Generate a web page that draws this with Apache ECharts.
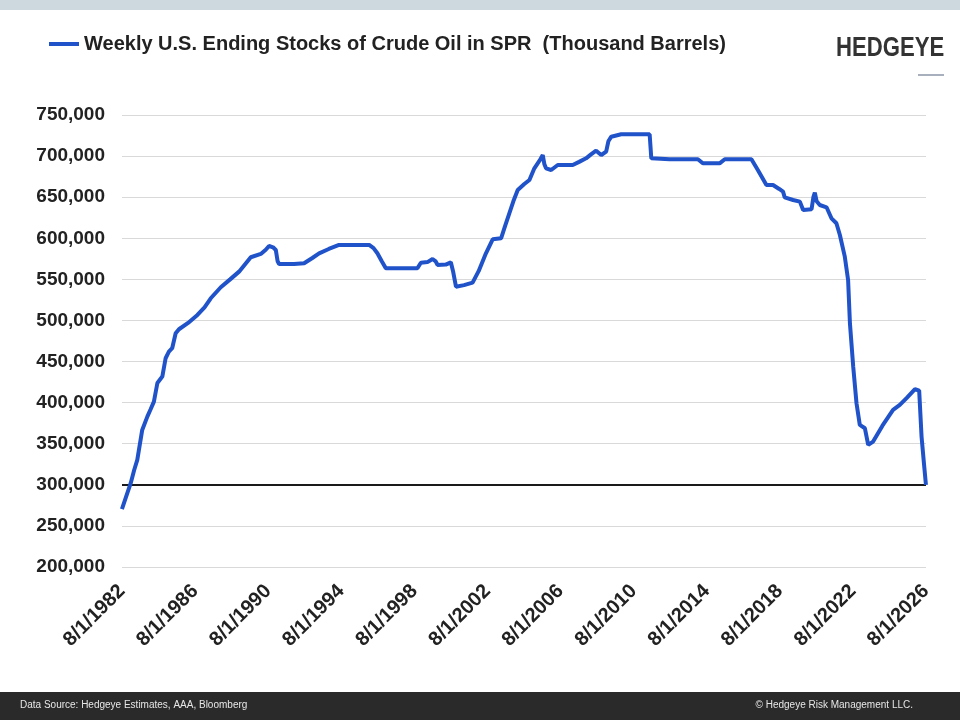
<!DOCTYPE html>
<html>
  <head>
    <meta charset="utf-8" />
    <title>SPR Weekly Stocks</title>
    <script src="https://cdn.jsdelivr.net/npm/echarts@6/dist/echarts.min.js"></script>
  </head>
  <body style="margin: 0">
    <div id="main" style="width: 960px; height: 720px"></div>
    <script type="text/javascript">
      var chartDom = document.getElementById('main');
      var myChart = echarts.init(chartDom);
      var option;

      // data: decimal year, thousand barrels
      const sprYears = [
        1982.58, 1982.8, 1983.06, 1983.25, 1983.42, 1983.69, 1983.97, 1984.15, 1984.33, 1984.52,
        1984.79, 1984.97, 1985.15, 1985.33, 1985.52, 1985.7, 1986.2, 1986.71, 1987.1, 1987.44,
        1987.99, 1988.5, 1988.99, 1989.63, 1990.18, 1990.45, 1990.63, 1990.85, 1991.0, 1991.1,
        1991.18, 1992.0, 1992.55, 1993.0, 1993.37, 1993.9, 1994.46, 1995.3, 1996.11, 1996.35,
        1996.56, 1996.8, 1997.02, 1998.0, 1998.75, 1998.94, 1999.3, 1999.58, 1999.75, 1999.85,
        2000.3, 2000.58, 2000.7, 2000.86, 2001.3, 2001.77, 2002.1, 2002.5, 2002.87, 2003.33,
        2003.55, 2003.78, 2004.0, 2004.24, 2004.6, 2004.88, 2005.15, 2005.45, 2005.61, 2005.7,
        2005.79, 2006.07, 2006.43, 2007.25, 2007.6, 2007.98, 2008.25, 2008.53, 2008.81, 2009.08,
        2009.2, 2009.36, 2009.9, 2011.46, 2011.55, 2012.55, 2013.1, 2014.1, 2014.37, 2015.29,
        2015.57, 2017.03, 2017.38, 2017.85, 2018.21, 2018.55, 2018.76, 2018.85, 2019.31, 2019.68,
        2019.86, 2020.32, 2020.42, 2020.5, 2020.6, 2020.77, 2021.14, 2021.41, 2021.68, 2021.87,
        2022.14, 2022.32, 2022.42, 2022.6, 2022.78, 2022.96, 2023.24, 2023.42, 2023.69, 2024.2,
        2024.78, 2025.15, 2025.52, 2025.98, 2026.21, 2026.34, 2026.47, 2026.58
      ];
      const sprStocks = [
        270300, 285000, 302000, 318000, 330300, 366800, 383000, 392000, 401200, 423900,
        431700, 454000, 462000, 466200, 484400, 489300, 497000, 506700, 516000, 527000,
        540400, 550000, 559400, 576900, 580900, 586000, 590600, 589000, 585800, 572000,
        568700, 568700, 569600, 576000, 581700, 587000, 591900, 591900, 591900, 588000,
        581700, 572000, 563500, 563500, 563500, 570300, 571000, 574800, 572000, 567500,
        568000, 570700, 560000, 541100, 543000, 546000, 560000, 581700, 598800, 600000,
        615000, 630400, 645000, 658800, 666000, 670900, 685100, 695000, 701300, 690000,
        685100, 683100, 689200, 689200, 693000, 697300, 702000, 706600, 701300, 705400,
        718000, 723600, 726500, 726500, 697300, 696100, 696100, 696100, 691200, 691200,
        696100, 696100, 683100, 664800, 664800, 660000, 656700, 649800, 646600, 644600,
        634400, 635300, 650000, 655500, 645000, 640500, 637700, 624300, 618300, 604000,
        577600, 549300, 496600, 443800, 399300, 372900, 368800, 348600, 352600, 372000,
        391100, 397200, 405400, 416300, 414600, 358700, 326300, 300000
      ];
      const startYear = 1982;
      const startOffset = 7 / 12; // 8/1
      const refLevel = 300000;
      const seriesName = 'Weekly U.S. Ending Stocks of Crude Oil in SPR  (Thousand Barrels)';

      const lineData = sprYears.map(function (y, i) {
        return [y - startYear - startOffset, sprStocks[i]];
      });

      option = {
        backgroundColor: '#fff',
        animation: false,
        textStyle: { fontFamily: 'Liberation Sans, Arial, sans-serif' },
        legend: {
          left: 44,
          top: 29,
          icon: 'rect',
          itemWidth: 30,
          itemHeight: 4,
          textStyle: { fontSize: 20, fontWeight: 'bold', color: '#222' },
          data: [seriesName]
        },
        grid: { left: 122, right: 34, top: 115, bottom: 153 },
        xAxis: {
          type: 'value',
          min: 0,
          max: 44,
          interval: 4,
          axisLine: { show: false },
          axisTick: { show: false },
          splitLine: { show: false },
          axisLabel: {
            rotate: 45,
            margin: 21,
            fontSize: 20,
            fontWeight: 'bold',
            color: '#222',
            formatter: function (v) {
              return '8/1/' + (startYear + v);
            }
          }
        },
        yAxis: {
          type: 'value',
          min: 200000,
          max: 750000,
          interval: 50000,
          axisLine: { show: false },
          axisTick: { show: false },
          splitLine: { lineStyle: { color: '#d9d9d9', width: 1 } },
          axisLabel: {
            margin: 17,
            fontSize: 19,
            fontWeight: 'bold',
            color: '#222',
            formatter: function (v) {
              return v.toLocaleString('en-US');
            }
          }
        },
        series: [
          {
            name: seriesName,
            type: 'line',
            showSymbol: false,
            symbol: 'none',
            data: lineData,
            itemStyle: { color: '#2052c9' },
            lineStyle: { color: '#2052c9', width: 4 },
            z: 3,
            markLine: {
              silent: true,
              symbol: 'none',
              label: { show: false },
              lineStyle: { color: '#1a1a1a', width: 2, type: 'solid' },
              data: [{ yAxis: refLevel }],
              z: 2
            }
          }
        ],
        graphic: [
          {
            type: 'rect',
            left: 0,
            top: 0,
            shape: { width: 960, height: 10 },
            style: { fill: '#cdd8df' }
          },
          {
            type: 'text',
            x: 836,
            y: 34,
            scaleX: 0.79,
            style: {
              text: 'HEDGEYE',
              font: 'bold 28px "Liberation Sans", Arial, sans-serif',
              fill: '#333'
            }
          },
          {
            type: 'rect',
            left: 918,
            top: 74,
            shape: { width: 26, height: 2 },
            style: { fill: '#a8b0bd' }
          },
          {
            type: 'rect',
            left: 0,
            top: 692,
            shape: { width: 960, height: 28 },
            style: { fill: '#2a2a2a' }
          },
          {
            type: 'text',
            left: 20,
            top: 700,
            style: {
              text: 'Data Source: Hedgeye Estimates, AAA, Bloomberg',
              font: '10px "Liberation Sans", Arial, sans-serif',
              fill: '#e6e6e6'
            }
          },
          {
            type: 'text',
            right: 47,
            top: 700,
            style: {
              text: '© Hedgeye Risk Management LLC.',
              font: '10px "Liberation Sans", Arial, sans-serif',
              fill: '#e6e6e6'
            }
          }
        ]
      };

      option && myChart.setOption(option);
    </script>
  </body>
</html>
